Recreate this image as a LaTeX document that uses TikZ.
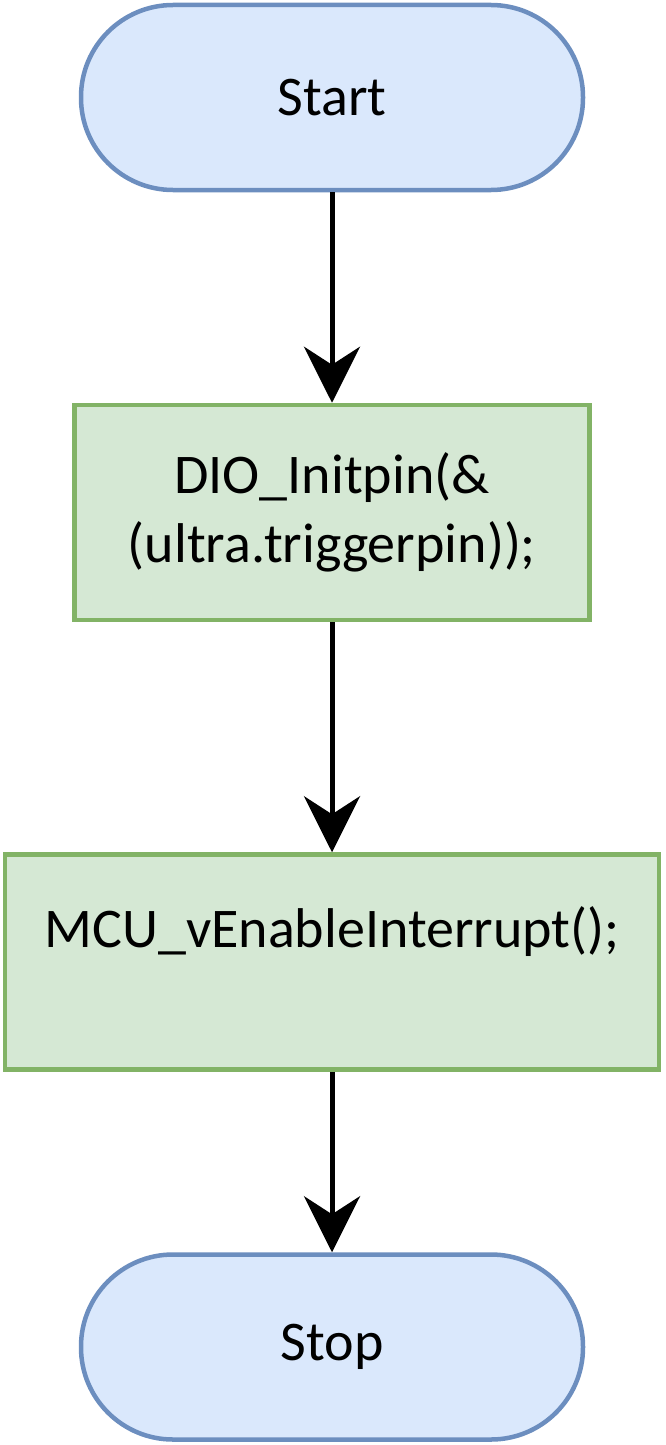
\documentclass[tikz,border=0pt]{standalone}
\usepackage{fontspec}
\setmainfont{Carlito}
\usetikzlibrary{arrows.meta}
\definecolor{termfill}{HTML}{DAE8FC}
\definecolor{termline}{HTML}{6C8EBF}
\definecolor{procfill}{HTML}{D5E8D4}
\definecolor{procline}{HTML}{82B366}
\begin{document}
\begin{tikzpicture}[x=1pt, y=-1pt, line width=4.5pt,
  every node/.style={font=\fontsize{56}{69}\selectfont, align=center, inner sep=0pt},
  terminal/.style={draw=termline, fill=termfill, rounded corners=92pt, minimum width=502pt, minimum height=185pt},
  process/.style={draw=procline, fill=procfill, minimum height=215pt},
  flow/.style={-{Stealth[length=56pt, width=56pt, inset=18pt]}, line width=5pt}]
  \useasboundingbox (0,0) rectangle (665,1445);
  \node[terminal] (start) at (332,97.5) {Start};
  \node[process, minimum width=515pt] (init) at (332,512.5) {DIO\_Initpin(\&\\(ultra.triggerpin));};
  \node[process, minimum width=654pt] (enable) at (332,962) {MCU\_vEnableInterrupt();\\\mbox{}};
  \node[terminal] (stop) at (332,1347) {Stop};
  \draw[flow] (start) -- (init);
  \draw[flow] (init) -- (enable);
  \draw[flow] (enable) -- (stop);
\end{tikzpicture}
\end{document}
